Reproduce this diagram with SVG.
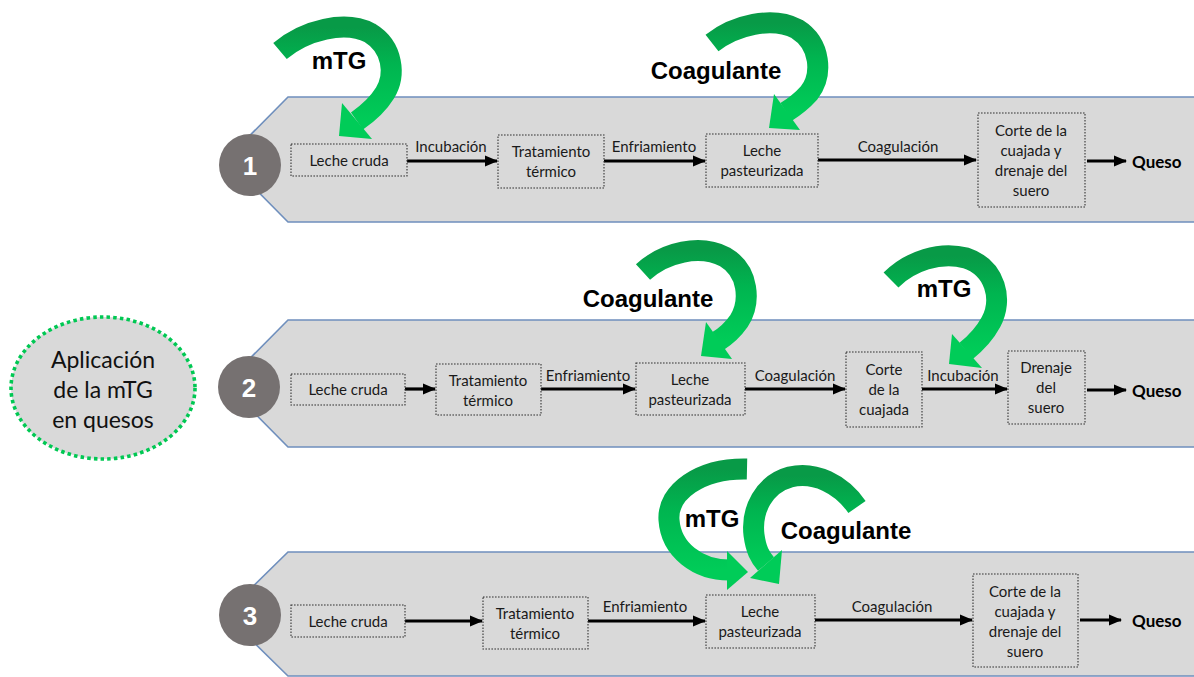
<svg xmlns="http://www.w3.org/2000/svg" width="1194" height="677" viewBox="0 0 1194 677">
  <defs>
    <linearGradient id="greenArc" x1="0" y1="0" x2="0" y2="1">
      <stop offset="0" stop-color="#089a47"/>
      <stop offset="0.4" stop-color="#00b550"/>
      <stop offset="1" stop-color="#00cc58"/>
    </linearGradient>
    <marker id="arrowHead" markerUnits="userSpaceOnUse" markerWidth="13" markerHeight="13" viewBox="0 0 13 13" refX="12" refY="6.5" orient="auto">
      <path d="M0,1 L13,6.5 L0,12 z" fill="#000"/>
    </marker>
    <style>
      .band { fill: #d9d9d9; stroke: #6f8fbd; stroke-width: 1.6; }
      .step { fill: none; stroke: #333; stroke-width: 1.1; stroke-dasharray: 1.6 1.4; }
      .lbl { font-family: Lato, "Liberation Sans", sans-serif; font-size: 15px; fill: #1a1a1a; text-anchor: middle; dominant-baseline: central; }
      .queso { font-family: Lato, "Liberation Sans", sans-serif; font-size: 17px; font-weight: bold; fill: #000; dominant-baseline: central; }
      .agent { font-family: "Liberation Sans", Arial, sans-serif; font-size: 24px; font-weight: bold; fill: #000; text-anchor: middle; dominant-baseline: central; }
      .num { fill: #767171; }
      .numtxt { font-family: "Liberation Sans", Arial, sans-serif; font-size: 26px; font-weight: bold; fill: #fff; text-anchor: middle; dominant-baseline: central; }
      .flow { stroke: #000; stroke-width: 3.2; fill: none; marker-end: url(#arrowHead); }
      .arc { fill: none; stroke: url(#greenArc); stroke-width: 21; stroke-linecap: butt; }
      .tip { fill: #00cc58; }
      .title { font-family: Lato, "Liberation Sans", sans-serif; font-size: 23px; fill: #111; text-anchor: middle; dominant-baseline: central; }
    </style>
  </defs>

  <!-- process bands -->
  <g id="bands">
    <polygon class="band" points="288,97 1200,97 1200,222 288,222 226,159.5"/>
    <polygon class="band" points="288,320 1200,320 1200,447 288,447 225,383.5"/>
    <polygon class="band" points="288,552 1200,552 1200,676 288,676 225,614"/>
  </g>

  <!-- title bubble -->
  <g id="title">
    <ellipse cx="103" cy="388" rx="92" ry="71" fill="#d9d9d9" stroke="#00c853" stroke-width="3.6" stroke-dasharray="3.5 3.2"/>
    <text class="title" x="103" y="359">Aplicación</text>
    <text class="title" x="103" y="389">de la mTG</text>
    <text class="title" x="103" y="419">en quesos</text>
  </g>

  <!-- row numbers -->
  <g id="num1"><circle class="num" cx="250" cy="165" r="31"/><text class="numtxt" x="250" y="166">1</text></g>
  <g id="num2"><circle class="num" cx="249" cy="387" r="31"/><text class="numtxt" x="249" y="388">2</text></g>
  <g id="num3"><circle class="num" cx="250" cy="615" r="31"/><text class="numtxt" x="250" y="616">3</text></g>

  <!-- connectors -->
  <g id="connectors">
    <!-- row 1 -->
    <line class="flow" x1="407" y1="161" x2="497" y2="161"/>
    <line class="flow" x1="604" y1="161" x2="705" y2="161"/>
    <line class="flow" x1="818" y1="160" x2="976" y2="160"/>
    <line class="flow" x1="1087" y1="161" x2="1126" y2="161"/>
    <text class="lbl" x="451" y="146">Incubación</text>
    <text class="lbl" x="654" y="146">Enfriamiento</text>
    <text class="lbl" x="898" y="146">Coagulación</text>
    <!-- row 2 -->
    <line class="flow" x1="405" y1="389" x2="435" y2="389"/>
    <line class="flow" x1="541" y1="389" x2="635" y2="389"/>
    <line class="flow" x1="745" y1="389" x2="845" y2="389"/>
    <line class="flow" x1="922" y1="389" x2="1007" y2="389"/>
    <line class="flow" x1="1087" y1="390" x2="1126" y2="390"/>
    <text class="lbl" x="588" y="375">Enfriamiento</text>
    <text class="lbl" x="795" y="375">Coagulación</text>
    <text class="lbl" x="963" y="375">Incubación</text>
    <!-- row 3 -->
    <line class="flow" x1="405" y1="621" x2="482" y2="621"/>
    <line class="flow" x1="588" y1="621" x2="705" y2="621"/>
    <line class="flow" x1="815" y1="620" x2="972" y2="620"/>
    <line class="flow" x1="1080" y1="620" x2="1121" y2="620"/>
    <text class="lbl" x="645" y="606">Enfriamiento</text>
    <text class="lbl" x="892" y="606">Coagulación</text>
  </g>

  <!-- row 1 steps -->
  <g id="r1-leche-cruda"><rect class="step" x="291" y="144" width="116" height="32"/><text class="lbl" x="349" y="160">Leche cruda</text></g>
  <g id="r1-tratamiento"><rect class="step" x="498" y="135" width="106" height="53"/><text class="lbl" x="551" y="151">Tratamiento</text><text class="lbl" x="551" y="171">térmico</text></g>
  <g id="r1-pasteurizada"><rect class="step" x="706" y="134" width="112" height="53"/><text class="lbl" x="762" y="150">Leche</text><text class="lbl" x="762" y="170">pasteurizada</text></g>
  <g id="r1-corte"><rect class="step" x="978" y="113" width="107" height="94"/><text class="lbl" x="1031" y="130">Corte de la</text><text class="lbl" x="1031" y="150">cuajada y</text><text class="lbl" x="1031" y="170">drenaje del</text><text class="lbl" x="1031" y="190">suero</text></g>
  <g id="r1-queso"><text class="queso" x="1132" y="161">Queso</text></g>

  <!-- row 2 steps -->
  <g id="r2-leche-cruda"><rect class="step" x="291" y="374" width="114" height="31"/><text class="lbl" x="348" y="389">Leche cruda</text></g>
  <g id="r2-tratamiento"><rect class="step" x="436" y="364" width="105" height="51"/><text class="lbl" x="488" y="380">Tratamiento</text><text class="lbl" x="488" y="400">térmico</text></g>
  <g id="r2-pasteurizada"><rect class="step" x="636" y="363" width="109" height="52"/><text class="lbl" x="690" y="379">Leche</text><text class="lbl" x="690" y="399">pasteurizada</text></g>
  <g id="r2-corte"><rect class="step" x="846" y="352" width="76" height="75"/><text class="lbl" x="884" y="369">Corte</text><text class="lbl" x="884" y="389">de la</text><text class="lbl" x="884" y="409">cuajada</text></g>
  <g id="r2-drenaje"><rect class="step" x="1008" y="351" width="77" height="73"/><text class="lbl" x="1046" y="367">Drenaje</text><text class="lbl" x="1046" y="387">del</text><text class="lbl" x="1046" y="407">suero</text></g>
  <g id="r2-queso"><text class="queso" x="1132" y="390">Queso</text></g>

  <!-- row 3 steps -->
  <g id="r3-leche-cruda"><rect class="step" x="291" y="605" width="114" height="32"/><text class="lbl" x="348" y="621">Leche cruda</text></g>
  <g id="r3-tratamiento"><rect class="step" x="483" y="597" width="105" height="52"/><text class="lbl" x="535" y="613">Tratamiento</text><text class="lbl" x="535" y="633">térmico</text></g>
  <g id="r3-pasteurizada"><rect class="step" x="706" y="595" width="109" height="53"/><text class="lbl" x="760" y="611">Leche</text><text class="lbl" x="760" y="631">pasteurizada</text></g>
  <g id="r3-corte"><rect class="step" x="973" y="574" width="105" height="93"/><text class="lbl" x="1025" y="591">Corte de la</text><text class="lbl" x="1025" y="611">cuajada y</text><text class="lbl" x="1025" y="631">drenaje del</text><text class="lbl" x="1025" y="651">suero</text></g>
  <g id="r3-queso"><text class="queso" x="1132" y="620">Queso</text></g>

  <!-- curved additive arrows: band ends at the head base, head points along the curve -->
  <g id="r1-mtg">
    <path class="arc" d="M280,51 C305,30 345,20 370,33 C393,47 396,75 385,93 C377,106 367,114 357,121"/>
    <polygon class="tip" points="342,103 372,139 339,136"/>
    <text class="agent" x="339" y="60">mTG</text>
  </g>
  <g id="r1-coagulante">
    <path class="arc" d="M712,43 C735,25 772,16 797,29 C821,44 823,75 809,93 C801,102 794,107 786,112"/>
    <polygon class="tip" points="774,94 800,130 769,128"/>
    <text class="agent" x="716" y="70">Coagulante</text>
  </g>
  <g id="r2-coagulante">
    <path class="arc" d="M643,272 C665,252 700,244 725,257 C749,271 751,302 739,321 C732,331 726,336 718,341"/>
    <polygon class="tip" points="706,322 732,359 701,356"/>
    <text class="agent" x="648" y="298">Coagulante</text>
  </g>
  <g id="r2-mtg">
    <path class="arc" d="M891,280 C910,261 940,251 966,258 C996,268 1003,300 991,322 C984,335 976,343 966,351"/>
    <polygon class="tip" points="952,334 982,368 949,364"/>
    <text class="agent" x="944" y="288">mTG</text>
  </g>
  <g id="r3-mtg">
    <path class="arc" d="M747,469 C700,468 667,492 669,520 C671,550 698,570 729,570"/>
    <polygon class="tip" points="727,551 748,572 727,590"/>
    <text class="agent" x="712" y="518">mTG</text>
  </g>
  <g id="r3-coagulante">
    <path class="arc" d="M857,507 C841,484 815,471 790,477 C764,484 751,510 754,535 C756,550 760,557 766,564"/>
    <polygon class="tip" points="750,578 782,550 779,584"/>
    <text class="agent" x="846" y="530">Coagulante</text>
  </g>
</svg>
